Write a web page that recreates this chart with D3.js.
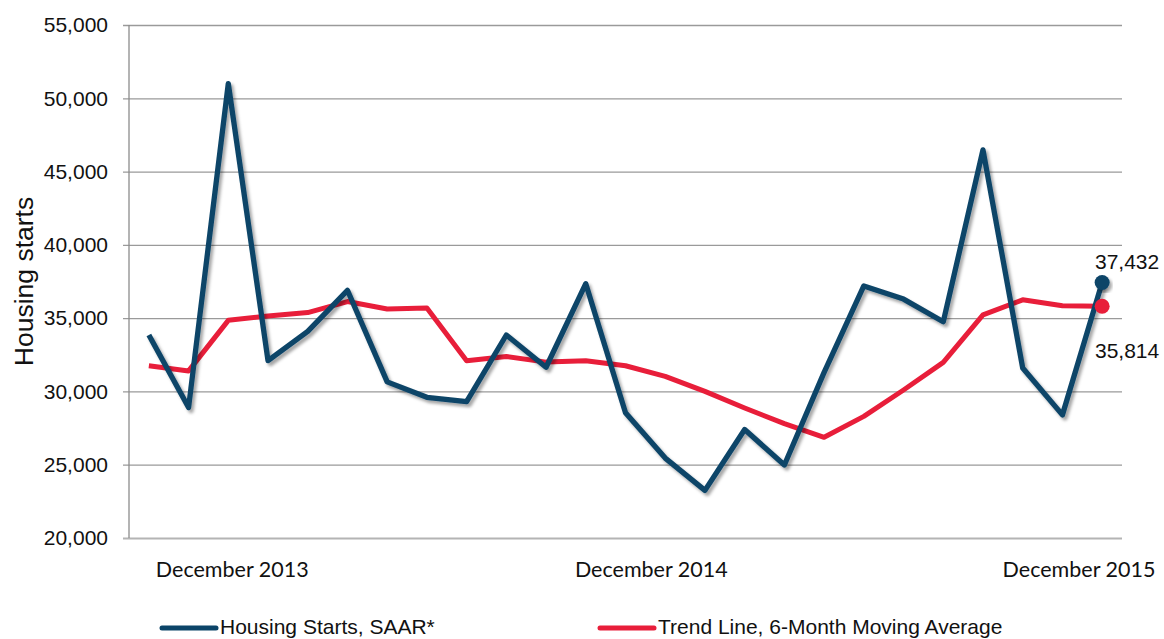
<!DOCTYPE html>
<html>
<head>
<meta charset="utf-8">
<script src="https://cdn.jsdelivr.net/npm/d3@7"></script>
<style>
  body { margin: 0; background: #fff; }
  svg { display: block; }
</style>
</head>
<body>
<div id="anchor-point"></div>
<script>
// months shown on the chart, oldest first (25 points)
const months = d3.range(25);

// housing starts, SAAR
const starts = [33850, 28900, 51000, 32100, 34100, 36900, 30650, 29600, 29300, 33850,
  31650, 37350, 28550, 25450, 23250, 27400, 24980, 31300, 37200, 36300,
  34750, 46480, 31600, 28400, 37432];

// 6-month moving average
const trend = [31750, 31400, 34850, 35150, 35380, 36130, 35620, 35700, 32100, 32380,
  32000, 32100, 31750, 31030, 30000, 28870, 27800, 26870, 28300, 30100,
  31980, 35220, 36250, 35840, 35814];

const yTicks = [20000, 25000, 30000, 35000, 40000, 45000, 50000, 55000];

// category labels on the x axis, in month units
const xLabels = [
  { at: 2.1, label: "December 2013" },
  { at: 12.65, label: "December 2014" },
  { at: 24, label: "December 2015" }
];

const seriesNames = ["Housing Starts, SAAR*", "Trend Line, 6-Month Moving Average"];
const seriesColors = ["#0b4468", "#e81e3a"];

const width = 1164, height = 639;
const margin = { top: 25, left: 129, right: 42, bottom: 101 };

const x = d3.scaleLinear()
  .domain([-0.5, months.length - 0.5])
  .range([margin.left, width - margin.right]);

const y = d3.scaleLinear()
  .domain([20000, 55000])
  .range([height - margin.bottom, margin.top]);

const fmt = d3.format(",");

const svg = d3.select("#anchor-point")
  .append("svg")
  .attr("width", width)
  .attr("height", height);

// shadow under the blue line
const filt = svg.append("defs").append("filter")
  .attr("id", "shadow")
  .attr("x", "-10%").attr("y", "-10%")
  .attr("width", "130%").attr("height", "130%");
filt.append("feDropShadow")
  .attr("dx", 2.5).attr("dy", 3)
  .attr("stdDeviation", 1.6)
  .attr("flood-color", "#000")
  .attr("flood-opacity", 0.35);

// gridlines + tick marks
const yAxis = d3.axisLeft(y)
  .tickValues(yTicks)
  .tickFormat(fmt)
  .tickSize(-(width - margin.right - margin.left))
  .tickPadding(21);

const gy = svg.append("g")
  .attr("transform", `translate(${margin.left},0)`)
  .call(yAxis);

gy.select(".domain").remove();
gy.selectAll(".tick line")
  .attr("x1", -6)
  .attr("stroke", (d) => d === 20000 ? "#b4b4b4" : "#9a9a9a")
  .attr("stroke-width", (d) => d === 20000 ? 2 : 1.3);
gy.selectAll(".tick text")
  .attr("fill", "#111")
  .style("font-family", "Liberation Sans, Arial, sans-serif")
  .style("font-size", "21px");

// vertical axis line
svg.append("line")
  .attr("x1", margin.left).attr("x2", margin.left)
  .attr("y1", y(55000)).attr("y2", y(20000))
  .attr("stroke", "#8c8c8c")
  .attr("stroke-width", 1.3);

// y title
svg.append("text")
  .attr("transform", `translate(33, ${(y(20000) + y(55000)) / 2}) rotate(-90)`)
  .attr("text-anchor", "middle")
  .style("font-family", "Liberation Sans, Arial, sans-serif")
  .style("font-size", "26.5px")
  .attr("fill", "#111")
  .text("Housing starts");

// x labels
svg.selectAll(".xlab")
  .data(xLabels)
  .enter()
  .append("text")
  .attr("class", "xlab")
  .attr("x", (d) => Math.min(x(d.at), width - 9 - 76))
  .attr("y", 577)
  .attr("text-anchor", "middle")
  .style("font-family", "Lato, sans-serif")
  .style("font-size", "21.5px")
  .attr("fill", "#111")
  .text((d) => d.label);

const line = d3.line()
  .x((d, i) => x(months[i]))
  .y((d) => y(d));

// trend line
svg.append("path")
  .datum(trend)
  .attr("d", line)
  .attr("fill", "none")
  .attr("stroke", seriesColors[1])
  .attr("stroke-width", 5)
  .attr("stroke-linejoin", "round");

// housing starts line
svg.append("path")
  .datum(starts)
  .attr("d", line)
  .attr("fill", "none")
  .attr("stroke", seriesColors[0])
  .attr("stroke-width", 5.3)
  .attr("stroke-linejoin", "round")
  .attr("filter", "url(#shadow)");

// end markers + labels
const last = months.length - 1;
svg.append("circle")
  .attr("cx", x(months[last])).attr("cy", y(starts[last]))
  .attr("r", 7.5)
  .attr("fill", seriesColors[0])
  .attr("filter", "url(#shadow)");
svg.append("circle")
  .attr("cx", x(months[last])).attr("cy", y(trend[last]))
  .attr("r", 7.5)
  .attr("fill", seriesColors[1]);

svg.append("text")
  .attr("x", 1095).attr("y", y(starts[last]) - 13)
  .style("font-family", "Liberation Sans, Arial, sans-serif")
  .style("font-size", "21px")
  .attr("fill", "#111")
  .text(fmt(starts[last]));
svg.append("text")
  .attr("x", 1095).attr("y", y(trend[last]) + 52)
  .style("font-family", "Liberation Sans, Arial, sans-serif")
  .style("font-size", "21px")
  .attr("fill", "#111")
  .text(fmt(trend[last]));

// legend
const legendX = [162, 600];
const lg = svg.selectAll(".legend")
  .data(seriesNames)
  .enter()
  .append("g")
  .attr("class", "legend")
  .attr("transform", (d, i) => `translate(${legendX[i]}, 628)`);

lg.append("line")
  .attr("x1", 0).attr("x2", 54)
  .attr("stroke", (d, i) => seriesColors[i])
  .attr("stroke-width", 5)
  .attr("stroke-linecap", "round");

lg.append("text")
  .attr("x", 58)
  .attr("y", 6)
  .style("font-family", "Liberation Sans, Arial, sans-serif")
  .style("font-size", "21px")
  .attr("fill", "#111")
  .text((d) => d);
</script>
</body>
</html>
